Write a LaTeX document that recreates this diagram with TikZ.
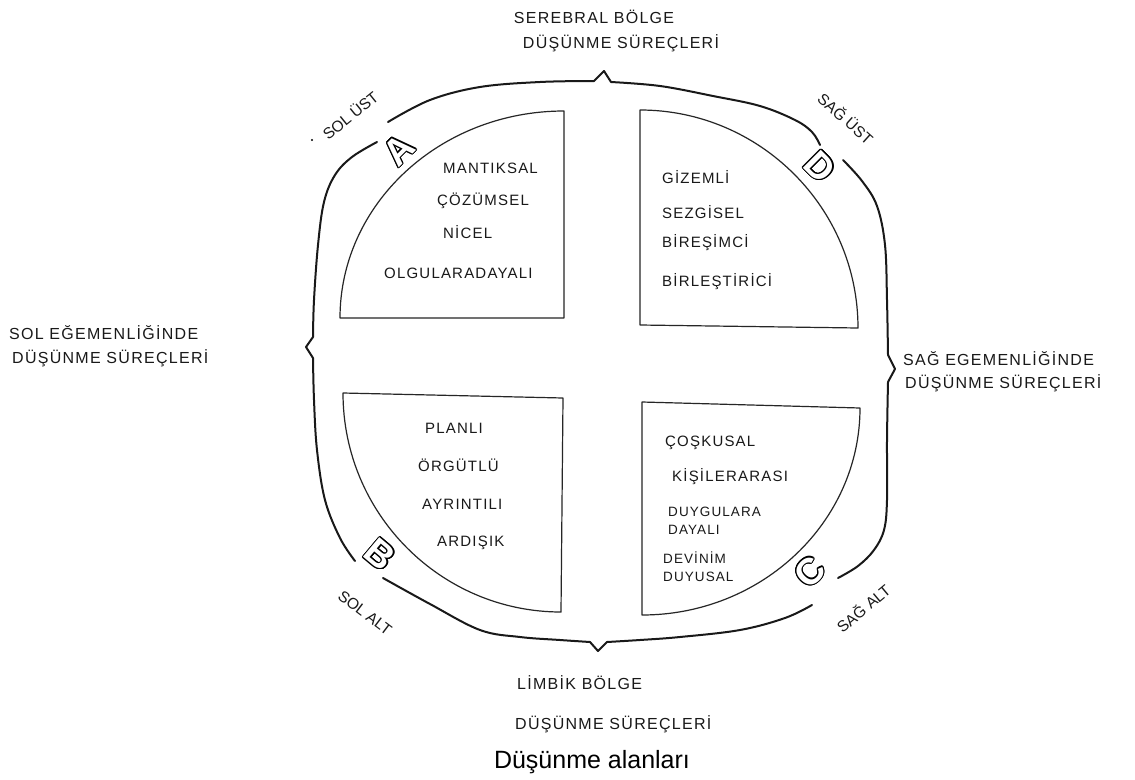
\documentclass[tikz,border=0pt]{standalone}
\usepackage{fontspec}
\setmainfont{Liberation Sans}
\newfontfamily\hand[LetterSpace=8]{Liberation Sans}
\usepackage{contour}
\contourlength{1.1pt}
\begin{document}
\begin{tikzpicture}[x=1pt,y=-1pt,
  frame/.style={line width=2pt, line cap=round, line join=round, black!90},
  quad/.style={line width=1.2pt, line join=round, black!85},
  lbl/.style={font=\hand\fontsize{15}{15}\selectfont, inner sep=0pt, text=black!90},
  rot/.style={font=\fontsize{15.5}{15.5}\selectfont, inner sep=0pt, text=black!90},
  sml/.style={font=\hand\fontsize{13.5}{13.5}\selectfont, inner sep=0pt, text=black!90},
  head/.style={font=\hand\fontsize{16}{16}\selectfont, inner sep=0pt, text=black!90},
  letter/.style={inner sep=0pt, text=white, font=\fontsize{37}{37}\selectfont\bfseries},
]
\useasboundingbox[fill=white] (0,0) rectangle (1135,779);

% quadrants
\draw[quad] (340,318) .. controls (340,204) and (440,111) .. (564,111) -- (564,318) -- cycle;
\draw[quad] (640,110) .. controls (760,110) and (858,208) .. (858,328) -- (640,325) -- cycle;
\draw[quad] (343,393) -- (563,398) -- (561,612) .. controls (441,612) and (343,514) .. cycle;
\draw[quad] (642,402) -- (860,408) .. controls (860,522) and (762,615) .. (642,615) -- cycle;

% outer frame (four pieces, gaps at letters)
\draw[frame] plot[smooth,tension=0.6] coordinates {(388,122) (430,100) (480,87) (540,82) (594,81)}
  -- (604,71) -- (611,82)
  -- plot[smooth,tension=0.6] coordinates {(611,82) (660,86) (713,96) (760,106) (795,120) (812,132) (820,145)};
\draw[frame] plot[smooth,tension=0.6] coordinates {(843,160) (862,181) (877,206) (885,245) (887,300) (888,355)}
  -- (895,369) -- (888,382)
  -- plot[smooth,tension=0.6] coordinates {(888,382) (887,440) (887,500) (884,530) (874,550) (858,566) (838,578)};
\draw[frame] plot[smooth,tension=0.6] coordinates {(812,605) (785,618) (740,630) (680,637) (640,640) (607,642)}
  -- (598,651) -- (590,642)
  -- plot[smooth,tension=0.6] coordinates {(590,642) (560,640) (520,637) (480,630) (430,604) (383,578)};
\draw[frame] plot[smooth,tension=0.6] coordinates {(355,561) (340,538) (325,500) (317,450) (314,400) (313,358)}
  -- (306,347) -- (313,337)
  -- plot[smooth,tension=0.6] coordinates {(313,337) (314,300) (318,245) (324,202) (335,175) (352,157) (377,142)};

% outlined letters
\node[letter, rotate=45]  (la) at (399,150) {\contour{black}{A}};
\node[letter, rotate=-45] (ld) at (820,167) {\contour{black}{D}};
\node[letter, rotate=-40] (lb) at (380,555) {\contour{black}{B}};
\node[letter, rotate=45]  (lc) at (810,572) {\contour{black}{C}};

% corner labels
\fill (312,140) circle (1.2);
\node[rot, rotate=39]  (solust) at (350,115) {SOL ÜST};
\node[rot, rotate=-42] (sagust) at (846,118) {SAĞ ÜST};
\node[rot, rotate=-37] (solalt) at (365,613) {SOL ALT};
\node[rot, rotate=40]  (sagalt) at (863,608) {SAĞ ALT};

% side headings
\node[head] (top1) at (594,17) {SEREBRAL BÖLGE};
\node[head] (top2) at (621,43) {DÜŞÜNME SÜREÇLERİ};
\node[head, anchor=west] (lft1) at (9,333) {SOL EĞEMENLİĞİNDE};
\node[head, anchor=west] (lft2) at (12,358) {DÜŞÜNME SÜREÇLERİ};
\node[head, anchor=west] (rgt1) at (903,359) {SAĞ EGEMENLİĞİNDE};
\node[head, anchor=west] (rgt2) at (905,383) {DÜŞÜNME SÜREÇLERİ};
\node[head, anchor=west] (bot1) at (517,683) {LİMBİK BÖLGE};
\node[head, anchor=west] (bot2) at (515,724) {DÜŞÜNME SÜREÇLERİ};

% quadrant A
\node[lbl, anchor=west] (a1) at (443,168) {MANTIKSAL};
\node[lbl, anchor=west] (a2) at (437,201) {ÇÖZÜMSEL};
\node[lbl, anchor=west] (a3) at (443,232) {NİCEL};
\node[lbl, anchor=west] (a4) at (384,273) {OLGULARADAYALI};
% quadrant D
\node[lbl, anchor=west] (d1) at (662,177) {GİZEMLİ};
\node[lbl, anchor=west] (d2) at (662,212) {SEZGİSEL};
\node[lbl, anchor=west] (d3) at (662,243) {BİREŞİMCİ};
\node[lbl, anchor=west] (d4) at (662,282) {BİRLEŞTİRİCİ};
% quadrant B
\node[lbl, anchor=west] (b1) at (425,428) {PLANLI};
\node[lbl, anchor=west] (b2) at (418,465) {ÖRGÜTLÜ};
\node[lbl, anchor=west] (b3) at (422,504) {AYRINTILI};
\node[lbl, anchor=west] (b4) at (437,543) {ARDIŞIK};
% quadrant C
\node[lbl, anchor=west] (c1) at (665,443) {ÇOŞKUSAL};
\node[lbl, anchor=west] (c2) at (672,477) {KİŞİLERARASI};
\node[sml, anchor=west] (c3) at (668,512) {DUYGULARA};
\node[sml, anchor=west] (c4) at (668,530) {DAYALI};
\node[sml, anchor=west] (c5) at (663,558) {DEVİNİM};
\node[sml, anchor=west] (c6) at (663,577) {DUYUSAL};

% caption
\node[inner sep=0pt, font=\fontsize{25}{25}\selectfont] (cap) at (592,762) {Düşünme alanları};
\end{tikzpicture}
\end{document}
